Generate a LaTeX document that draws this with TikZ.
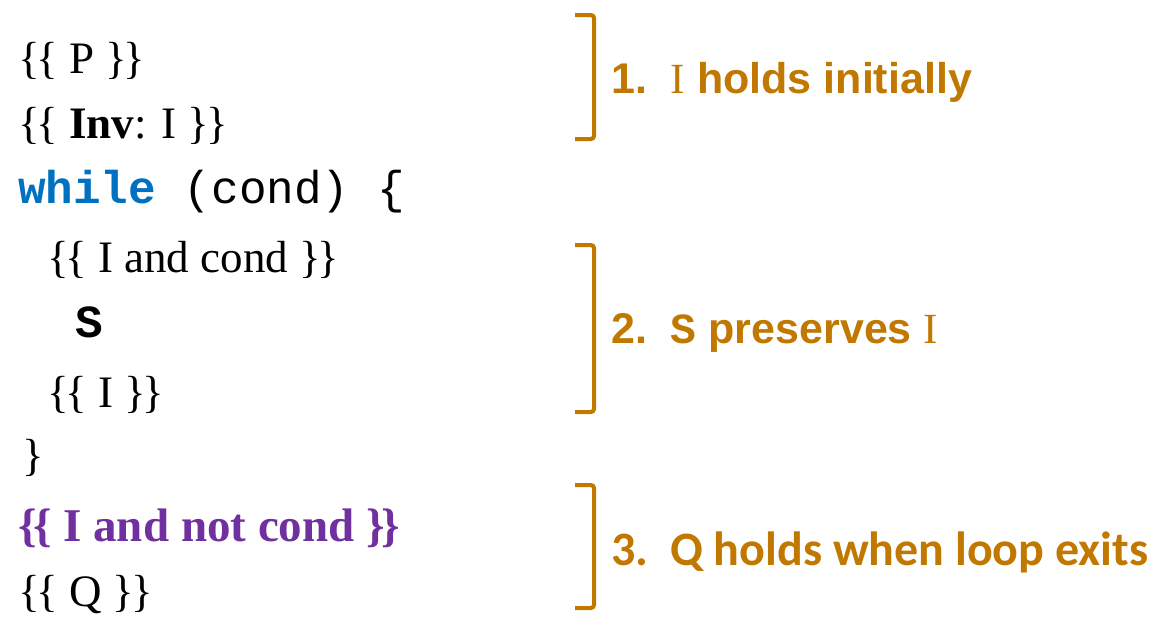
\documentclass[tikz,border=0pt]{standalone}
\usepackage{fontspec}
\setmainfont{Liberation Serif}
\setmonofont{Liberation Mono}
\newfontfamily\notefont{Liberation Sans}
\newfontfamily\calfont{Carlito}
\definecolor{accent}{HTML}{C07800}
\definecolor{kwblue}{HTML}{0070C0}
\definecolor{postpurple}{HTML}{7030A0}
% double braces of an assertion, set a little tighter
\newcommand\asopen{\{\kern-3.5pt\{}
\newcommand\asclose{\}\kern-3.5pt\}}
\begin{document}
\begin{tikzpicture}[x=1pt,y=-1pt,
  code/.style={anchor=base west, inner sep=0pt, font=\fontsize{45}{45}\selectfont},
  mono/.style={anchor=base west, inner sep=0pt, font=\fontsize{46}{46}\selectfont\ttfamily},
  bracket/.style={draw=accent, line width=4pt, rounded corners=3pt},
  note/.style={anchor=base west, inner sep=0pt, text=accent, font=\fontsize{43}{43}\selectfont\notefont\bfseries},
  calnote/.style={anchor=base west, inner sep=0pt, text=accent, font=\fontsize{48}{48}\selectfont\calfont\bfseries}]
\useasboundingbox (0,0) rectangle (1152,624);

% annotated loop
\node[code] (pre)  at (18,73)  {\asopen{} P \asclose};
\node[code] (inv)  at (18,138) {\asopen{} \textbf{Inv}: I \asclose};
\node[mono] (wh)   at (18,203) {\textcolor{kwblue}{\textbf{while}} (cond) \{};
\node[code] (body) at (47,272) {\asopen{} I and cond \asclose};
\node[mono] (stm)  at (75,337) {\textbf{S}};
\node[code] (post) at (47,407) {\asopen{} I \asclose};
\node[code] (cls)  at (22,470) {\}};
\node[code, text=postpurple, font=\fontsize{47}{47}\selectfont\bfseries] (exit) at (18,541) {\asopen{} I and not cond \asclose};
\node[code] (q)    at (18,606) {\asopen{} Q \asclose};

% brackets
\draw[bracket] (575,15) -- (594,15) -- (594,139) -- (575,139);
\draw[bracket] (575,245) -- (594,245) -- (594,412) -- (575,412);
\draw[bracket] (575,485) -- (594,485) -- (594,608) -- (575,608);

% proof obligations
\node[note] (n1) at (611,93) {1.\ \ {\rmfamily\mdseries I} holds initially};
\node[note] (n2) at (611,343) {2.\ \ {\ttfamily S} preserves {\rmfamily\mdseries I}};
\node[calnote] (n3) at (611,565) {3.\ \ Q holds when loop exits};
\end{tikzpicture}
\end{document}
